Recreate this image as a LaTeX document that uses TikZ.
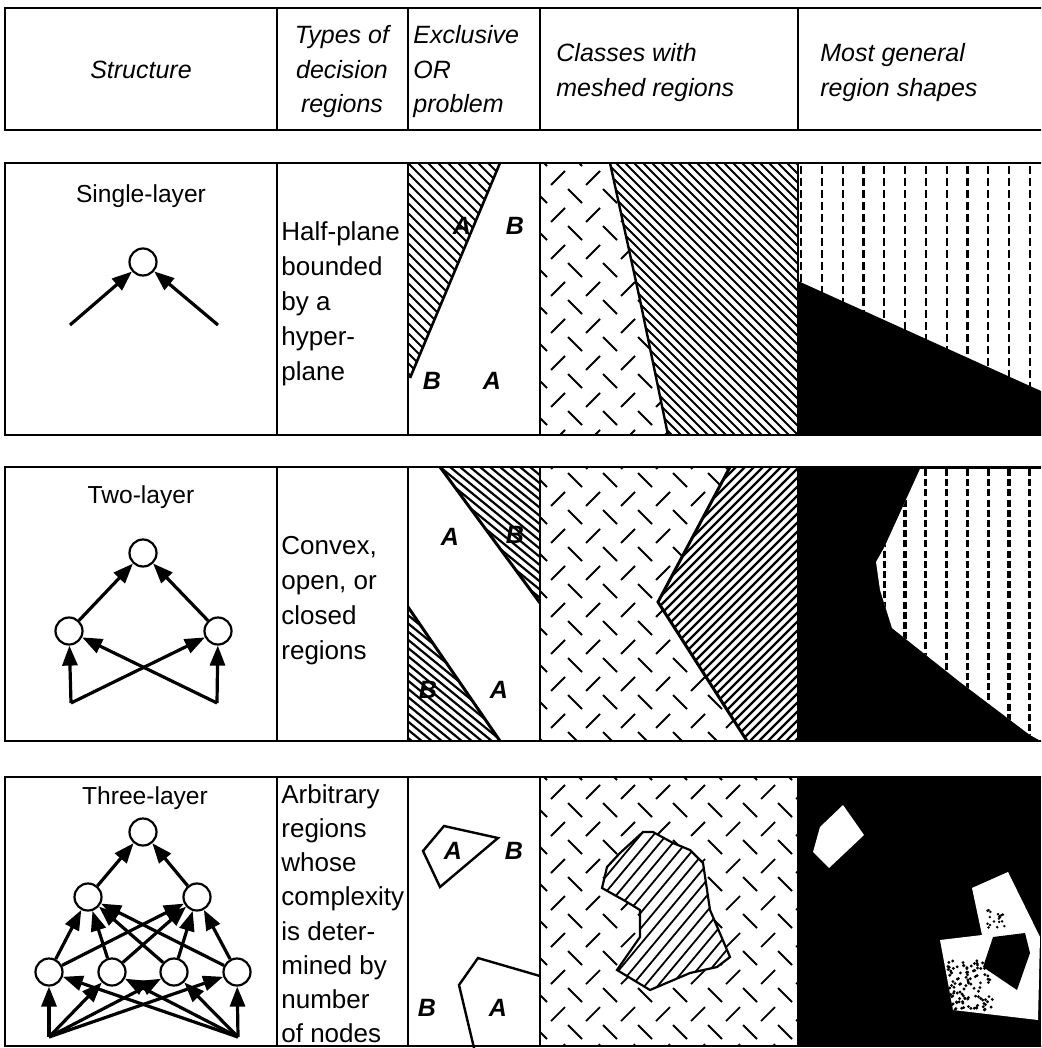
\documentclass[tikz,border=0pt]{standalone}
\usepackage{fontspec}
\setmainfont{Liberation Sans}
\usetikzlibrary{arrows.meta,calc}

% short crossed strokes of the meshed class, one row block
\newcommand{\meshmarks}[1]{%
  \foreach \mj in {-1,...,7} {
    \foreach \mi in {-1,...,7} {
      \draw[mesh] (551+35*\mi,#1+7+37*\mj) -- ++(14,-14);
      \draw[mesh] (568+35*\mi,#1+11+37*\mj) -- ++(14,14);
    }
  }%
}

\begin{document}
\begin{tikzpicture}[
    x=0.5pt, y=-0.5pt,
    font=\fontsize{13}{17.5}\selectfont,
    grid/.style={line width=1.2pt},
    unit/.style={
        circle,
        draw,
        line width=1.1pt,
        fill=white,
        minimum size=13.5pt,
        inner sep=0pt
    },
    arr/.style={-{Triangle[length=10pt,width=7.5pt]}, line width=1.6pt},
    head/.style={
        inner sep=0pt,
        font=\fontsize{12.5}{17.25}\selectfont\itshape
    },
    body/.style={align=left, anchor=north west, inner sep=0pt},
    title/.style={inner sep=0pt, font=\fontsize{12.3}{14}\selectfont},
    lab/.style={inner sep=0pt, font=\fontsize{12.5}{14}\selectfont\bfseries\itshape},
    hatch/.style={line width=0.9pt},
    mesh/.style={line width=0.9pt},
    dashv/.style={line width=1.1pt, dash pattern=on 4pt off 2pt}
]
\clip (0,0) rectangle (1041,1048);

% header row
\node[head] (hstruct) at (141,70) {Structure};
\node[head, align=center, anchor=north] (htypes) at (342,25) {Types of\\decision\\regions};
\node[head, align=left, anchor=north west] (hxor) at (413,25) {Exclusive\\OR\\problem};
\node[head, align=left, anchor=north west] (hmesh) at (556,43) {Classes with\\meshed regions};
\node[head, align=left, anchor=north west] (hshape) at (820,43) {Most general\\region shapes};

% first row: single layer
\node[title] (t1) at (141,196) {Single-layer};
\node[unit] (o1) at (143,262) {};
\coordinate (a1) at (70,325);
\coordinate (a2) at (218,325);
\draw[arr] (a1) -- (o1);
\draw[arr] (a2) -- (o1);

\node[body] (d1) at (281,221) {Half-plane\\bounded\\by a\\hyper-\\plane};

\begin{scope}
  \clip (408,163) -- (500,163) -- (410,378) -- (408,378) -- cycle;
  \foreach \k in {-300,-290,...,120} \draw[hatch] (408+\k,163) -- ++(260,260);
\end{scope}
\draw[line width=1.3pt] (500,163) -- (410,378);
\node[lab] (x1a) at (462,226) {A};
\node[lab] (x1b) at (515,226) {B};
\node[lab] (x1c) at (432,381) {B};
\node[lab] (x1d) at (492,381) {A};

\begin{scope}
  \clip (540,163) -- (610,163) -- (668,435) -- (540,435) -- cycle;
  \meshmarks{178}
\end{scope}
\begin{scope}
  \clip (610,163) -- (798,163) -- (798,435) -- (668,435) -- cycle;
  \foreach \k in {-300,-291,...,200} \draw[hatch] (610+\k,163) -- ++(300,300);
\end{scope}
\draw[line width=1.2pt] (610,163) -- (640,300) -- (668,435);

\begin{scope}
  \clip (798,163) rectangle (1041,435);
  \foreach \i in {0,...,11} \draw[dashv] (801+20.8*\i,166) -- (801+20.8*\i,435);
  \fill (798,281) -- (1041,391) -- (1041,435) -- (798,435) -- cycle;
\end{scope}

% second row: two layers
\node[title] (t2) at (141,497) {Two-layer};
\node[unit] (o2) at (143,553) {};
\node[unit] (m21) at (69,631) {};
\node[unit] (m22) at (218,631) {};
\coordinate (i21) at (71,703);
\coordinate (i22) at (217,703);
\draw[arr] (m21) -- (o2);
\draw[arr] (m22) -- (o2);
\draw[arr] (i21) -- (m21);
\draw[arr] (i21) -- (m22);
\draw[arr] (i22) -- (m22);
\draw[arr] (i22) -- (m21);

\node[body] (d2) at (281,536) {Convex,\\open, or\\closed\\regions};

\begin{scope}
  \clip (440,467) -- (540,467) -- (540,603) -- cycle;
  \foreach \k in {-200,-190,...,200} \draw[hatch, line width=1.1pt] (440+\k,467) -- ++(220,180);
\end{scope}
\begin{scope}
  \clip (408,607) -- (500,741) -- (408,741) -- cycle;
  \foreach \k in {-200,-190,...,200} \draw[hatch, line width=1.1pt] (408+\k,607) -- ++(220,180);
\end{scope}
\draw[line width=1.5pt] (440,467) -- (540,603);
\draw[line width=1.5pt] (408,607) -- (500,741);
\node[lab] (x2a) at (450,537) {A};
\node[lab] (x2b) at (515,535) {B};
\node[lab] (x2c) at (428,690) {B};
\node[lab] (x2d) at (499,690) {A};

\begin{scope}
  \clip (540,467) rectangle (798,741);
  \meshmarks{462}
  \fill[white] (730,467) -- (798,467) -- (798,741) -- (747,741) -- (658,602) -- cycle;
  \clip (730,467) -- (798,467) -- (798,741) -- (747,741) -- (658,602) -- cycle;
  \foreach \k in {-150,-141,...,450} \draw[line width=1.2pt] (350+\k,760) -- ++(310,-310);
\end{scope}
\draw[line width=1.5pt] (730,467) -- (658,602) -- (747,741);

\fill (798,467) rectangle (1041,741);
\begin{scope}
  \clip (920,469) -- (1041,469) -- (1041,741) -- (1030,735) -- (960,682)
    -- (892,628) -- (880,590) -- (876,562) -- (884,548) -- cycle;
  \fill[white] (798,467) rectangle (1041,741);
  \foreach \i in {0,...,11}
    \draw[dashv, line width=1.6pt, dash pattern=on 3.5pt off 1.6pt] (801+20.8*\i,469) -- (801+20.8*\i,741);
\end{scope}

% third row: three layers
\node[title] (t3) at (145,798) {Three-layer};
\node[unit] (o3) at (143,832) {};
\node[unit] (h31) at (88,897) {};
\node[unit] (h32) at (197,897) {};
\foreach \n/\gx in {1/49,2/112,3/174,4/237}
  \node[unit] (g3\n) at (\gx,972) {};
\coordinate (i31) at (49,1037);
\coordinate (i32) at (238,1037);
\foreach \h in {1,2} \draw[arr] (h3\h) -- (o3);
\foreach \g in {1,...,4}
  \foreach \h in {1,2} \draw[arr] (g3\g) -- (h3\h);
\foreach \g in {1,...,4}
  \foreach \i in {1,2} \draw[arr] (i3\i) -- (g3\g);

\node[body, font=\fontsize{13}{17.1}\selectfont] (d3) at (281,784) {Arbitrary\\regions\\whose\\complexity\\is deter-\\mined by\\number\\of nodes};

\draw[line width=1.2pt] (423,851) -- (444,826) -- (498,838) -- (440,887) -- cycle;
\draw[line width=1.2pt] (540,976) -- (478,958) -- (459,985) -- (474,1048);
\node[lab] (x3a) at (453,851) {A};
\node[lab] (x3b) at (514,851) {B};
\node[lab] (x3c) at (427,1008) {B};
\node[lab] (x3d) at (498,1008) {A};

\begin{scope}
  \clip (540,777) rectangle (798,1046);
  \meshmarks{792}
\end{scope}
\begin{scope}
  \fill[white] (602,888) -- (607,867) -- (620,853) -- (643,832) -- (653,832)
    -- (673,843) -- (690,850) -- (703,863) -- (710,910) -- (730,957) -- (717,967)
    -- (690,973) -- (650,990) -- (617,970) -- (640,937) -- (640,910) -- (627,902) -- cycle;
  \clip (602,888) -- (607,867) -- (620,853) -- (643,832) -- (653,832)
    -- (673,843) -- (690,850) -- (703,863) -- (710,910) -- (730,957) -- (717,967)
    -- (690,973) -- (650,990) -- (617,970) -- (640,937) -- (640,910) -- (627,902) -- cycle;
  \foreach \k in {-200,-187,...,250} \draw[hatch] (560+\k,1000) -- ++(200,-240);
\end{scope}
\draw[line width=1.1pt] (602,888) -- (607,867) -- (620,853) -- (643,832) -- (653,832)
    -- (673,843) -- (690,850) -- (703,863) -- (710,910) -- (730,957) -- (717,967)
    -- (690,973) -- (650,990) -- (617,970) -- (640,937) -- (640,910) -- (627,902) -- cycle;

\fill (798,777) rectangle (1041,1046);
\fill[white] (813,852) -- (820,827) -- (843,805) -- (864,835) -- (829,868) -- cycle;
\begin{scope}
  \clip (972,888) -- (1008,872) -- (1040,937) -- (1038,1020) -- (953,1010)
    -- (940,940) -- (982,935) -- cycle;
  \fill[white] (930,860) rectangle (1041,1030);
  \pgfmathsetseed{7}
  \foreach \s in {1,...,110} {
    \pgfmathsetmacro{\sx}{948+45*rnd}
    \pgfmathsetmacro{\sy}{960+50*rnd}
    \fill (\sx,\sy) circle (0.8pt);
  }
  \foreach \s in {1,...,18} {
    \pgfmathsetmacro{\sx}{985+20*rnd}
    \pgfmathsetmacro{\sy}{910+18*rnd}
    \fill (\sx,\sy) circle (0.7pt);
  }
  \fill (983,967) -- (993,937) -- (1025,933) -- (1030,953) -- (1017,990) -- cycle;
\end{scope}

% table frame
\draw[grid] (5,8) rectangle (1060,130);
\foreach \cx in {277,408,540,798} \draw[grid] (\cx,8) -- (\cx,130);
\foreach \ty/\by in {163/435,467/741,777/1046} {
  \draw[grid] (5,\ty) rectangle (1060,\by);
  \foreach \cx in {277,408,540,798} \draw[grid] (\cx,\ty) -- (\cx,\by);
}

\end{tikzpicture}
\end{document}
